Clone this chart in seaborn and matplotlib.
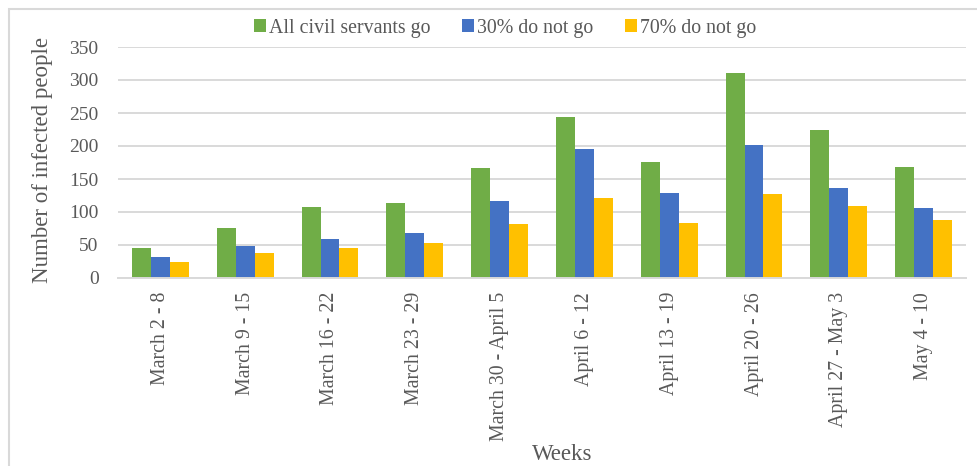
import matplotlib
matplotlib.use("Agg")
import matplotlib.pyplot as plt
import seaborn as sns
import pandas as pd
from matplotlib.patches import Rectangle

weeks = ["March 2 - 8", "March 9 - 15", "March 16 - 22", "March 23 - 29",
         "March 30 - April 5", "April 6 - 12", "April 13 - 19", "April 20 - 26",
         "April 27 - May 3", "May 4 - 10"]
series = ["All civil servants go", "30% do not go", "70% do not go"]
all_go = [45, 76, 107, 113, 167, 244, 176, 310, 224, 168]
pct30 = [32, 48, 59, 68, 116, 195, 129, 201, 136, 106]
pct70 = [25, 38, 46, 53, 82, 121, 84, 127, 109, 88]
colors = ["#70AD47", "#4472C4", "#FFC000"]

rows = []
for s, vals in zip(series, [all_go, pct30, pct70]):
    for w, v in zip(weeks, vals):
        rows.append({"Week": w, "Series": s, "Value": v})
df = pd.DataFrame(rows)

sns.set_theme(style="white")
plt.rcParams["font.family"] = ["Liberation Serif", "DejaVu Serif"]

W, H = 978, 466
fig = plt.figure(figsize=(W / 100, H / 100), dpi=100)
ax = fig.add_axes([118 / W, 1 - 278 / H, (966 - 118) / W, (278 - 47) / H])

sns.barplot(data=df, x="Week", y="Value", hue="Series", order=weeks,
            hue_order=series, palette=colors, width=0.67, linewidth=0,
            saturation=1, ax=ax, legend=True)

ax.set_ylim(0, 350)
ax.set_yticks(range(0, 351, 50))
ax.set_xlim(-0.5, len(weeks) - 0.5)
ax.yaxis.grid(True, color="#d9d9d9", linewidth=1.4)
ax.set_axisbelow(True)
for sp in ["top", "right", "left"]:
    ax.spines[sp].set_visible(False)
ax.spines["bottom"].set_color("#d9d9d9")
ax.spines["bottom"].set_linewidth(1.4)

tc = "#595959"
ax.tick_params(axis="y", length=0, pad=14, labelsize=14, labelcolor=tc)
ax.tick_params(axis="x", length=0, pad=10, labelsize=14.3, labelcolor=tc)
plt.setp(ax.get_xticklabels(), rotation=90)

ax.set_xlabel("Weeks", fontsize=16.5, color=tc)
ax.set_ylabel("Number of infected people", fontsize=16.5, color=tc)
ax.xaxis.set_label_coords((562 - 118) / 848, (278 - 444) / 231)
ax.yaxis.set_label_coords((53 - 118) / 848, (278 - 160) / 231)

handles, labels = ax.get_legend_handles_labels()
ax.get_legend().remove()
fig.legend(handles, labels, loc="center", bbox_to_anchor=(505 / W, 1 - 28 / H),
           ncol=3, frameon=False, fontsize=14.3, labelcolor=tc,
           handlelength=0.6, handleheight=0.6, handletextpad=0.15,
           columnspacing=1.6)

fig.patches.append(Rectangle((9 / W, -0.1), 1.2, 1.1 - 9 / H,
                             transform=fig.transFigure, fill=False,
                             edgecolor="#d9d9d9", linewidth=1.5))

fig.savefig("out.png", dpi=100)
